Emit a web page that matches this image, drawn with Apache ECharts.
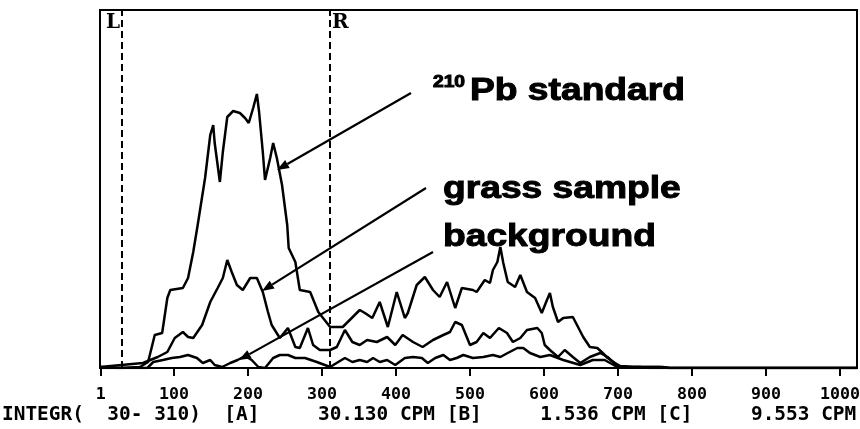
<!DOCTYPE html>
<html>
<head>
<meta charset="utf-8">
<script src="https://cdn.jsdelivr.net/npm/echarts@6/dist/echarts.min.js"></script>
<style>
html,body{margin:0;padding:0;background:#fff;}
#chart{width:860px;height:429px;}
</style>
</head>
<body>
<div id="chart"></div>
<script>
// ---- data (channel, counts) ----
const stdCh  = [0,27,54,65,74,84,91,95,112,119,126,132,142,149,153,155,162,166,172,180,189,196,201,207,212,215,220,223,230,234,239,246,253,255,264,270,284,295,311,328,351,358,368,378,389,401,412,416,428,439,450,459,469,480,489,504,509,520,527,531,537,541,545,551,561,568,577,588,597,604,608,612,619,626,639,646,653,662,672,678,686,696,703,720,761,770,1023];
const stdVal = [1,0,1,6,33,35,70,78,80,90,116,143,190,233,243,225,186,216,251,257,255,250,245,260,274,256,216,188,210,225,210,183,143,120,106,78,76,56,41,41,58,55,50,66,41,76,50,55,83,91,78,71,86,60,80,78,76,88,85,98,106,121,105,86,81,93,76,70,55,68,75,61,46,50,51,41,31,21,20,16,10,5,2,1,1,0,0];

const grassCh  = [0,58,68,78,91,101,112,119,126,138,149,159,166,172,178,185,193,203,212,220,227,232,243,254,264,270,281,288,297,311,320,331,341,351,361,374,388,399,409,423,436,450,464,473,480,489,500,509,518,527,539,550,558,568,577,591,597,601,608,619,628,639,649,662,676,686,699,716,757,770,1023];
const grassVal = [1,5,8,11,16,30,36,31,30,43,66,80,90,108,96,83,78,90,90,76,56,43,30,40,21,20,40,23,18,18,21,38,26,23,28,26,31,23,33,26,21,28,33,36,46,43,23,26,35,30,40,35,26,30,38,40,35,23,18,11,18,11,5,11,15,11,2,1,1,0,0];

const bgCh  = [0,64,72,85,97,108,119,131,139,149,155,165,176,186,196,205,214,223,234,243,254,264,277,293,311,322,331,341,351,361,369,378,388,399,412,423,435,443,453,464,473,482,491,504,518,531,541,551,564,572,581,595,608,626,649,666,682,699,730,743,1023];
const bgVal = [0,0,6,8,10,11,13,10,5,8,3,1,5,8,12,8,1,0,10,13,13,10,10,6,1,6,10,6,8,6,10,6,8,3,10,11,10,5,10,13,8,10,13,10,11,13,11,15,20,20,15,11,13,8,3,8,8,1,1,0,0];

const tickValues = [1,100,200,300,400,500,600,700,800,900,1000];
const windowL = 30, windowR = 310;
const seriesNames = ['210Pb standard','grass sample','background'];
const integrLine = 'INTEGR(  30- 310)  [A]     30.130 CPM [B]     1.536 CPM [C]     9.553 CPM';

function zip(a,b){ return a.map((v,i)=>[v,b[i]]); }

const chart = echarts.init(document.getElementById('chart'), null, {renderer:'canvas'});
const monoFont = '"DejaVu Sans Mono", "Liberation Mono", monospace';
const sansFont = '"Liberation Sans", Arial, sans-serif';

function arrow(sx, sy, tx, ty){
  const dx = tx - sx, dy = ty - sy, L = Math.hypot(dx, dy);
  const ux = dx / L, uy = dy / L, nx = -uy, ny = ux;
  const hl = 12, hw = 4.6;
  const bx = tx - ux*hl, by = ty - uy*hl;
  return [
    {type:'line', shape:{x1:sx,y1:sy,x2:bx,y2:by}, style:{stroke:'#000', lineWidth:2.2}, silent:true},
    {type:'polygon', shape:{points:[[tx,ty],[bx+nx*hw,by+ny*hw],[bx-nx*hw,by-ny*hw]]}, style:{fill:'#000'}, silent:true}
  ];
}

const bigText = (t, x, y, size) => ({type:'text', x:x, y:y, scaleX:1.2,
  style:{text:t, font:'bold '+size+'px '+sansFont, fill:'#000', stroke:'#000', lineWidth:1, textVerticalAlign:'middle'}});

const graphics = [];
graphics.push(bigText('210', 433, 83, 16));
graphics.push(bigText('Pb standard', 470, 91, 31));
graphics.push(bigText('grass sample', 443, 189, 31));
graphics.push(bigText('background', 443, 237, 31));
graphics.push(...arrow(411,93,277,170));
graphics.push(...arrow(426,188,262,291));
graphics.push(...arrow(433,252,239,360));
graphics.push({type:'text', x:106, y:23, style:{text:'L', font:'bold 20px "DejaVu Serif", serif', fill:'#000', textVerticalAlign:'middle'}});
graphics.push({type:'text', x:332, y:23, style:{text:'R', font:'bold 20px "DejaVu Serif", serif', fill:'#000', textVerticalAlign:'middle'}});
graphics.push({type:'text', x:2, y:415, style:{text:integrLine, font:'bold 19.45px '+monoFont, fill:'#000', textVerticalAlign:'middle'}});

const lineStyle = {color:'#000', width:2.5};
const option = {
  animation:false,
  backgroundColor:'#fff',
  grid:{left:100, right:3, top:10, bottom:61, containLabel:false, outerBoundsMode:'none',
        show:true, borderColor:'#000', borderWidth:2, backgroundColor:'transparent'},
  xAxis:{
    type:'value', min:0, max:1023,
    axisLine:{show:true, lineStyle:{color:'#000', width:2}},
    axisTick:{show:true, length:8, inside:false, lineStyle:{color:'#000', width:2}, customValues:tickValues},
    axisLabel:{show:true, customValues:tickValues, margin:18, color:'#000', fontFamily:monoFont, fontWeight:'bold', fontSize:16.6,
               formatter:(v)=>String(v)},
    splitLine:{show:false}
  },
  yAxis:{
    type:'value', min:0, max:358,
    axisLine:{show:true, lineStyle:{color:'#000', width:2}},
    axisTick:{show:false}, axisLabel:{show:false}, splitLine:{show:false}
  },
  series:[
    {name:seriesNames[0], type:'line', data:zip(stdCh,stdVal), symbol:'none', lineStyle:lineStyle, z:3,
     markLine:{silent:true, symbol:'none', label:{show:false},
       lineStyle:{color:'#000', width:2, type:[7,4]},
       data:[{xAxis:windowL},{xAxis:windowR}]}},
    {name:seriesNames[1], type:'line', data:zip(grassCh,grassVal), symbol:'none', lineStyle:lineStyle, z:3},
    {name:seriesNames[2], type:'line', data:zip(bgCh,bgVal), symbol:'none', lineStyle:lineStyle, z:3}
  ],
  graphic:graphics
};
chart.setOption(option);
</script>
</body>
</html>
